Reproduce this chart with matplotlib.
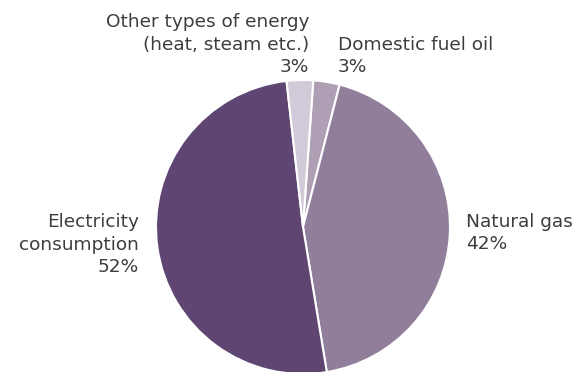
import matplotlib
matplotlib.use("Agg")
import matplotlib.pyplot as plt

# shares in drawing order (clockwise from the top)
categories = ["Domestic fuel oil", "Natural gas",
              "Electricity\nconsumption",
              "Other types of energy\n(heat, steam etc.)"]
shares = [2.9, 43.4, 50.8, 2.9]
pct_labels = ["3%", "42%", "52%", "3%"]
colors = ["#ae9fb5", "#917e9b", "#5e4572", "#d3cad9"]

W, H = 582, 372


def main():
    fig = plt.figure(figsize=(W / 100, H / 100), dpi=100)
    ax = fig.add_axes([0, 0, 1, 1])

    # pie centre and radius in pixels (y measured from the bottom)
    cx, cy, r = 303, H - 227, 147
    ax.pie(shares, colors=colors, startangle=86, counterclock=False,
           center=(cx, cy), radius=r, frame=True,
           wedgeprops=dict(edgecolor="white", linewidth=1.5))
    ax.set_xlim(0, W)
    ax.set_ylim(0, H)
    ax.set_aspect("equal")
    ax.axis("off")

    txt = dict(fontsize=13.3, color="#3d3d3d", va="baseline",
               linespacing=1.32)
    # label anchors: (x, baseline of last line from top, alignment)
    spots = [(338, 72, "left"), (466, 249, "left"),
             (139, 272, "right"), (309, 72, "right")]
    for name, pct, (x, y, ha) in zip(categories, pct_labels, spots):
        ax.text(x, H - y, f"{name}\n{pct}", ha=ha, multialignment=ha, **txt)

    fig.savefig("out.png", dpi=100)


if __name__ == "__main__":
    main()
